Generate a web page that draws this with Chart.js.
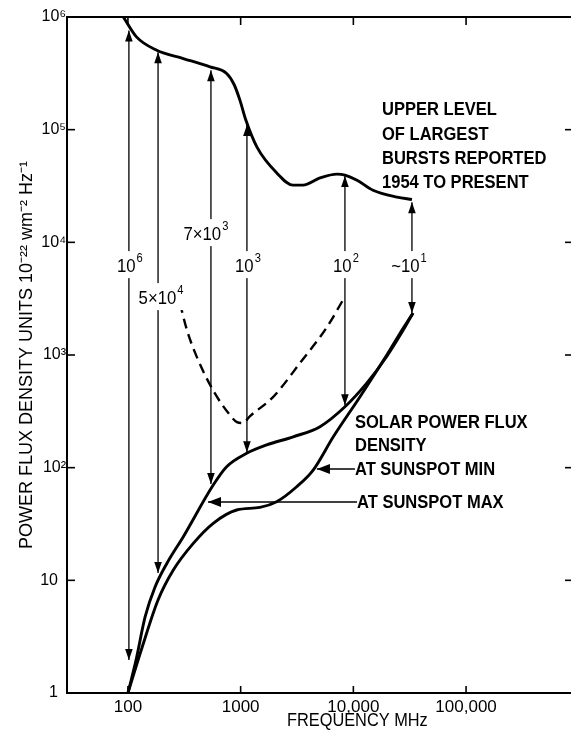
<!DOCTYPE html>
<html>
<head>
<meta charset="utf-8">
<script src="https://cdn.jsdelivr.net/npm/chart.js@4.4.1/dist/chart.umd.min.js"></script>
<style>
  html, body { margin: 0; padding: 0; background: #fff; }
  canvas { display: block; }
</style>
</head>
<body>
<canvas id="chart" width="571" height="736"></canvas>
<script>
// Frequency in MHz, flux in units of 1e-22 W m^-2 Hz^-1

// Upper level of the largest bursts reported, 1954 to present
const freqUpper = [91, 119, 180, 310, 535, 751, 872, 985, 1114, 1396, 2101, 2912, 3573, 5055, 7160, 8430, 10770, 14930, 24380, 33100];
const fluxUpper = [1e6, 6.66e5, 5.07e5, 4.28e5, 3.61e5, 3.15e5, 2.53e5, 1.83e5, 1.21e5, 7.0e4, 4.11e4, 3.22e4, 3.22e4, 3.73e4, 4.03e4, 3.95e4, 3.56e4, 2.9e4, 2.52e4, 2.4e4];

// Quiet-sun flux at sunspot maximum
const freqMax = [100, 118, 142, 174, 222, 310, 571, 751, 1130, 1700, 2930, 5060, 8420, 13100, 19700, 27700, 33800];
const fluxMax = [1, 1.96, 4.73, 8.72, 14.2, 24.4, 70.1, 102, 134, 159, 188, 231, 347, 560, 964, 1663, 2354];

// Quiet-sun flux at sunspot minimum
const freqMin = [100, 133, 185, 252, 380, 571, 922, 1483, 2085, 3140, 4400, 6640, 11460, 19050, 25900, 33800];
const fluxMin = [1, 2.51, 6.7, 12.3, 21.3, 32.1, 42.1, 44.4, 49.8, 67.7, 95.2, 188, 426, 939, 1555, 2354];

// Dashed curve below the burst envelope
const freqDip = [289, 334, 409, 568, 804, 927, 1047, 1211, 1937, 3360, 5830, 8420];
const fluxDip = [2890, 1663, 958, 488, 293, 254, 249, 287, 423, 848, 1770, 3300];

// Burst-to-quiet ratio arrows
const arrowFreq   = [102, 185, 545, 1137, 8420, 33100];
const arrowTop    = [7.6e5, 4.87e5, 3.37e5, 1.1e5, 3.87e4, 2.27e4];
const arrowBottom = [1.96, 11.6, 71.5, 137, 359, 2354];
const arrowLabelBase = ['10', '5\u00d710', '7\u00d710', '10', '10', '~10'];
const arrowLabelExp  = ['6', '4', '3', '3', '2', '1'];
const arrowLabelFlux = [6280, 3265, 12070, 6280, 6280, 6280];

// Pointers from the quiet-sun captions to their curves
const pointerFlux     = [97.2, 49.5];
const pointerTipFreq  = [4750, 513];
const pointerTailFreq = [10330, 10770];

// Axis ticks
const xTickValues = [100, 1000, 10000, 100000];
const xTickLabels = ['100', '1000', '10,000', '100,000'];
const yTickValues = [1, 10, 100, 1000, 10000, 100000, 1000000];
const yTickLabels = ['1\u2002', '10\u2002', '10\u00b2', '10\u00b3', '10\u2074', '10\u2075', '10\u2076'];

const burstNote = ['UPPER LEVEL', 'OF LARGEST', 'BURSTS REPORTED', '1954 TO PRESENT'];
const solarNote = ['SOLAR POWER FLUX', 'DENSITY'];
const pointerNote = ['AT SUNSPOT MIN', 'AT SUNSPOT MAX'];

const SANS = "'Liberation Sans', Arial, sans-serif";

const pts = (fx, fy) => fx.map((f, i) => ({ x: f, y: fy[i] }));

const curveStyle = {
  borderColor: '#000', borderWidth: 2.9, pointRadius: 0, fill: false,
  cubicInterpolationMode: 'monotone'
};

const datasets = [
  Object.assign({ label: 'upper', data: pts(freqUpper, fluxUpper) }, curveStyle),
  Object.assign({ label: 'max', data: pts(freqMax, fluxMax) }, curveStyle),
  Object.assign({ label: 'min', data: pts(freqMin, fluxMin) }, curveStyle),
  Object.assign({ label: 'dip', data: pts(freqDip, fluxDip), borderDash: [10, 6] }, curveStyle, { borderWidth: 2.4 })
];
arrowFreq.forEach((f, i) => {
  datasets.push({
    label: 'arrow' + i, arrowBoth: true,
    data: [{ x: f, y: arrowTop[i] }, { x: f, y: arrowBottom[i] }],
    borderColor: '#000', borderWidth: 1.3, pointRadius: 0, tension: 0
  });
});
pointerFlux.forEach((v, i) => {
  datasets.push({
    label: 'pointer' + i, arrowTip: true,
    data: [{ x: pointerTipFreq[i], y: v }, { x: pointerTailFreq[i], y: v }],
    borderColor: '#000', borderWidth: 1.6, pointRadius: 0, tension: 0
  });
});

function arrowHead(ctx, x, y, dx, dy, len, half) {
  const n = Math.hypot(dx, dy); dx /= n; dy /= n;
  ctx.beginPath();
  ctx.moveTo(x, y);
  ctx.lineTo(x - dx * len - dy * half, y - dy * len + dx * half);
  ctx.lineTo(x - dx * len + dy * half, y - dy * len - dx * half);
  ctx.closePath();
  ctx.fill();
}

// condensed lettering: text squeezed horizontally by sx
function squeezedText(ctx, t, x, y, sx, align) {
  ctx.save();
  ctx.translate(x, y);
  ctx.scale(sx, 1);
  ctx.textAlign = align;
  ctx.fillText(t, 0, 0);
  ctx.restore();
}

const decorations = {
  id: 'decorations',
  afterDatasetsDraw(chart) {
    const { ctx, chartArea: a, scales: { x, y } } = chart;
    ctx.save();
    ctx.fillStyle = '#000';
    ctx.strokeStyle = '#000';

    // top frame line
    ctx.lineWidth = 2;
    ctx.beginPath(); ctx.moveTo(a.left, a.top); ctx.lineTo(a.right, a.top); ctx.stroke();

    // inward tick marks on all four sides
    ctx.lineWidth = 1.6;
    xTickValues.forEach(v => {
      const px = x.getPixelForValue(v);
      ctx.beginPath(); ctx.moveTo(px, a.bottom); ctx.lineTo(px, a.bottom - 7); ctx.stroke();
      ctx.beginPath(); ctx.moveTo(px, a.top); ctx.lineTo(px, a.top + 8); ctx.stroke();
    });
    yTickValues.slice(1, -1).forEach(v => {
      const py = y.getPixelForValue(v);
      ctx.beginPath(); ctx.moveTo(a.left, py); ctx.lineTo(a.left + 8, py); ctx.stroke();
      ctx.beginPath(); ctx.moveTo(a.right, py); ctx.lineTo(a.right - 6, py); ctx.stroke();
    });

    // arrowheads
    chart.data.datasets.forEach((ds, i) => {
      const m = chart.getDatasetMeta(i).data;
      if (ds.arrowBoth) {
        arrowHead(ctx, m[0].x, m[0].y, 0, -1, 11, 3.8);
        arrowHead(ctx, m[1].x, m[1].y, 0, 1, 11, 3.8);
      } else if (ds.arrowTip) {
        arrowHead(ctx, m[0].x, m[0].y, -1, 0, 13, 5);
      }
    });

    // ratio labels on the arrows, exponent raised
    ctx.textBaseline = 'alphabetic';
    const sq = 0.93;
    arrowLabelBase.forEach((base, i) => {
      const cx = x.getPixelForValue(arrowFreq[i]) + (i === 1 ? 3 : i === 2 ? -5 : i === 5 ? -3 : 1);
      const cy = y.getPixelForValue(arrowLabelFlux[i]);
      ctx.font = '18px ' + SANS;
      const wb = ctx.measureText(base).width * sq;
      ctx.font = '12px ' + SANS;
      const we = ctx.measureText(arrowLabelExp[i]).width * sq;
      const w = wb + we + 1;
      const left = cx - w / 2;
      ctx.fillStyle = '#fff';
      ctx.fillRect(left - 2, cy - 14, w + 4, 27);
      ctx.fillStyle = '#000';
      ctx.font = '18px ' + SANS;
      squeezedText(ctx, base, left, cy + 6.5, sq, 'left');
      ctx.font = '12px ' + SANS;
      squeezedText(ctx, arrowLabelExp[i], left + wb + 1, cy - 3, sq, 'left');
    });
    ctx.textBaseline = 'middle';

    // captions
    ctx.font = 'bold 19px ' + SANS;
    const capSqueeze = 0.87;
    const bx = x.getPixelForValue(17950), by = y.getPixelForValue(1.49e5);
    burstNote.forEach((t, i) => squeezedText(ctx, t, bx, by + i * 24.3, capSqueeze, 'left'));
    const sx = x.getPixelForValue(10330), sy = y.getPixelForValue(249);
    solarNote.forEach((t, i) => squeezedText(ctx, t, sx, sy + i * 23, capSqueeze, 'left'));
    pointerNote.forEach((t, i) => {
      squeezedText(ctx, t, x.getPixelForValue(pointerTailFreq[i]), y.getPixelForValue(pointerFlux[i]) + 1, capSqueeze, 'left');
    });

    // x axis title
    ctx.font = '19px ' + SANS;
    squeezedText(ctx, 'FREQUENCY MHz', x.getPixelForValue(10000) + 4, 721, 0.86, 'center');
    ctx.restore();
  }
};

new Chart(document.getElementById('chart'), {
  type: 'line',
  data: { datasets },
  options: {
    responsive: false,
    animation: false,
    layout: { padding: { top: 17, right: 0, left: 0, bottom: 0 } },
    plugins: { legend: { display: false }, tooltip: { enabled: false } },
    scales: {
      x: {
        type: 'logarithmic', min: 28.8, max: 853000,
        afterBuildTicks: s => { s.ticks = xTickValues.map(v => ({ value: v })); },
        afterFit: s => { s.height = 43; },
        grid: { display: false, drawTicks: false },
        border: { display: true, color: '#000', width: 2 },
        ticks: {
          autoSkip: false, maxRotation: 0, padding: 4, color: '#000',
          font: { family: SANS, size: 17 },
          callback: (v, i) => xTickLabels[i]
        }
      },
      y: {
        type: 'logarithmic', min: 1, max: 1e6,
        afterBuildTicks: s => { s.ticks = yTickValues.map(v => ({ value: v })); },
        afterFit: s => { s.width = 67; },
        grid: { display: false, drawTicks: false },
        border: { display: true, color: '#000', width: 2 },
        ticks: {
          autoSkip: false, padding: 1, color: '#000',
          font: { family: SANS, size: 16 },
          callback: (v, i) => yTickLabels[i]
        },
        title: {
          display: true,
          text: 'POWER FLUX DENSITY UNITS 10\u207b\u00b2\u00b2 wm\u207b\u00b2 Hz\u207b\u00b9',
          color: '#000',
          font: { family: SANS, size: 18, lineHeight: 1.2 },
          padding: { top: 16, bottom: 0 }
        }
      }
    }
  },
  plugins: [decorations]
});
</script>
</body>
</html>
